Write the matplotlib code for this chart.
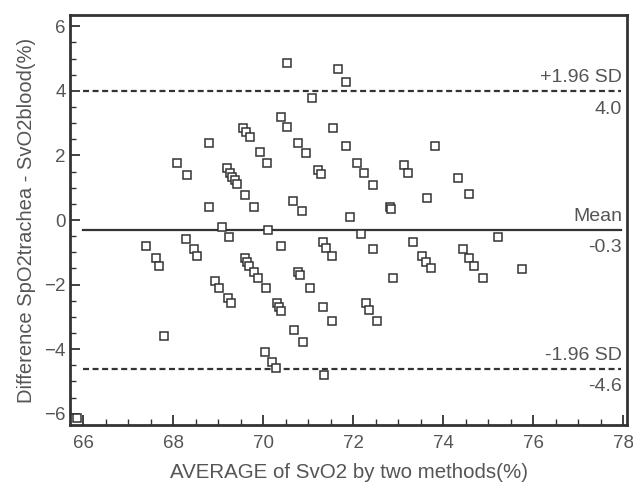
import matplotlib
matplotlib.use("Agg")
import matplotlib.pyplot as plt
from matplotlib.ticker import MultipleLocator

# Average of the two methods (x) and difference (y)
avg_x = [70.53, 71.67, 71.84, 71.09, 70.40, 70.53, 71.56, 69.56, 69.62, 69.71,
         69.93, 70.09, 70.78, 70.96, 71.22, 71.29, 69.20, 69.27, 69.31, 69.38,
         69.42, 69.60, 69.80, 70.67, 70.87, 70.11, 68.80, 68.09, 68.31, 68.80,
         69.09, 69.24, 71.84, 72.09, 72.24, 72.44, 72.82, 72.84, 71.93, 73.13,
         73.22, 73.64, 73.82, 74.33, 74.58,
         67.40, 67.62, 67.69, 68.29, 68.47, 68.53, 68.93, 69.02, 69.22, 69.29,
         67.80, 70.40, 71.33, 71.40, 71.53, 69.60, 69.64, 69.69, 69.80, 69.89,
         70.07, 70.78, 70.82, 71.04, 70.31, 70.36, 70.40, 71.33, 71.53, 70.69,
         70.89, 70.04, 70.20, 70.29, 71.36, 72.18, 72.44, 73.33, 73.53, 73.62,
         73.73, 72.89, 72.29, 72.36, 72.53, 75.22, 74.44, 74.58, 74.69, 74.89,
         75.76, 65.87]
diff_y = [4.86, 4.67, 4.27, 3.78, 3.19, 2.88, 2.85, 2.85, 2.72, 2.57,
          2.11, 1.76, 2.38, 2.07, 1.55, 1.42, 1.61, 1.46, 1.33, 1.24,
          1.11, 0.77, 0.40, 0.59, 0.28, -0.31, 2.38, 1.76, 1.39, 0.40,
          -0.22, -0.53, 2.29, 1.76, 1.46, 1.08, 0.40, 0.34, 0.09, 1.70,
          1.46, 0.68, 2.29, 1.30, 0.80,
          -0.80, -1.18, -1.42, -0.59, -0.90, -1.11, -1.89, -2.11, -2.41, -2.57,
          -3.59, -0.80, -0.68, -0.87, -1.11, -1.18, -1.30, -1.42, -1.61, -1.80,
          -2.11, -1.61, -1.70, -2.11, -2.57, -2.69, -2.82, -2.69, -3.13, -3.41,
          -3.78, -4.09, -4.40, -4.58, -4.80, -0.43, -0.90, -0.68, -1.11, -1.30,
          -1.49, -1.80, -2.57, -2.79, -3.13, -0.53, -0.90, -1.18, -1.42, -1.80,
          -1.52, -6.13]

mean_diff = -0.3
upper_loa = 4.0
lower_loa = -4.6
line_names = ["+1.96 SD", "Mean", "-1.96 SD"]
line_values = [upper_loa, mean_diff, lower_loa]
line_labels = ["4.0", "-0.3", "-4.6"]
line_styles = ["--", "-", "--"]

x_ticks = [66, 68, 70, 72, 74, 76, 78]
y_ticks = [-6, -4, -2, 0, 2, 4, 6]

plt.rcParams['font.family'] = ['Liberation Sans', 'DejaVu Sans']
text_col = "#555555"
dark = "#333333"

fig = plt.figure(figsize=(6.33, 4.83), dpi=100)
ax = fig.add_axes([0.1106, 0.120, 0.8800, 0.849])

ax.plot(avg_x, diff_y, linestyle="none", marker="s", markersize=5.2,
        markerfacecolor="white", markeredgecolor=dark, markeredgewidth=1.1,
        zorder=3)

x0, x1 = 66.0, 77.95
for v, name, lab, ls in zip(line_values, line_names, line_labels, line_styles):
    if ls == "--":
        ax.plot([x0, x1], [v, v], color=dark, lw=1.6, linestyle=(0, (2.7, 1.6)), zorder=2)
    else:
        ax.plot([x0, x1], [v, v], color=dark, lw=1.6, zorder=2)
    ax.text(77.98, v + 0.27, name, ha="right", va="baseline", fontsize=14, color=text_col)
    ax.text(77.98, v - 0.30, lab, ha="right", va="top", fontsize=14, color=text_col)

ax.set_xlim(65.71, 78.09)
ax.set_ylim(-6.35, 6.35)
ax.set_xticks(x_ticks)
ax.set_yticks(y_ticks)
ax.xaxis.set_minor_locator(MultipleLocator(0.5))
ax.yaxis.set_minor_locator(MultipleLocator(0.5))
ax.tick_params(which="major", direction="in", length=7, width=1.3, colors=dark,
               labelsize=13.5, labelcolor=text_col)
ax.tick_params(axis="x", which="major", pad=7)
ax.tick_params(axis="y", which="major", pad=3)
ax.tick_params(which="minor", direction="in", length=4, width=1.0, colors=dark)

for s in ax.spines.values():
    s.set_linewidth(2.0)
    s.set_color(dark)

ax.set_xlabel("AVERAGE of SvO2 by two methods(%)", fontsize=14.8, color=text_col, labelpad=8)
ax.set_ylabel("Difference SpO2trachea - SvO2blood(%)", fontsize=14.5, color=text_col, labelpad=6)

fig.savefig("out.png", dpi=100)
